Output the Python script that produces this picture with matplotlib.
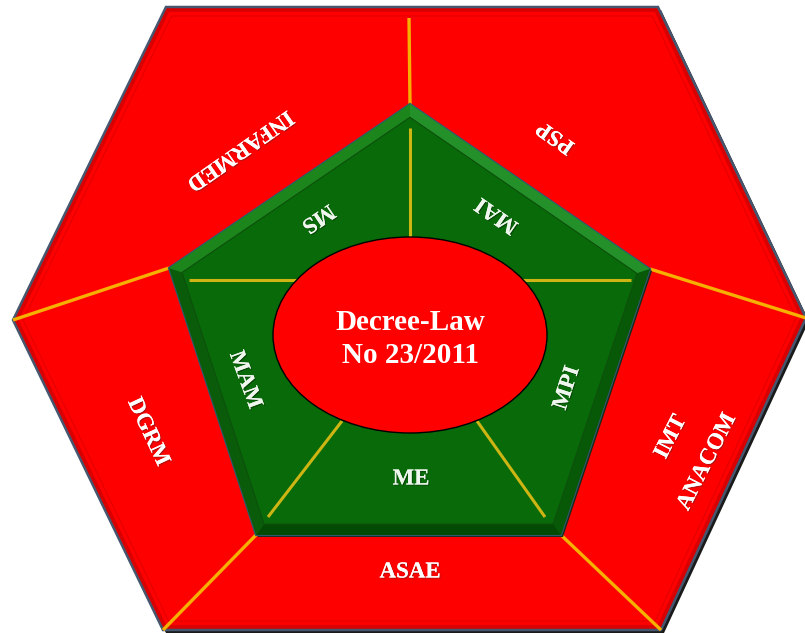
import numpy as np
import matplotlib
matplotlib.use("Agg")
import matplotlib.pyplot as plt
from matplotlib.patches import Polygon, Ellipse
import matplotlib.patheffects as pe

# ---- content ----
center_label = "Decree-Law\nNo 23/2011"
outer_labels = ["INFARMED", "PSP", "IMT", "ANACOM", "ASAE", "DGRM"]
inner_labels = ["MS", "MAI", "MPI", "ME", "MAM"]

# ---- geometry (pixel coordinates, y downward) ----
hexagon = np.array([(166, 7), (658, 7), (806, 318), (661, 630), (163, 630), (13, 320)], float)
pentagon = np.array([(410, 104), (650, 269), (561, 535), (256, 535), (169, 268)], float)
ell_c, ell_w, ell_h = (410, 335), 274, 196

outer_pos = [(240, 150, -145), (556, 137, 145), (671, 437, 63), (707, 462, 63),
             (410, 572, 0), (148, 432, -65)]
inner_pos = [(318, 218, -146), (497, 215, 145), (567, 388, 72), (411, 479, 0), (245, 380, -70)]

outer_div = [((410, 104), (409, 18)), ((169, 268), (13, 320)), ((650, 269), (806, 318)),
             ((256, 535), (163, 630)), ((561, 535), (661, 630))]
inner_div = [((410, 128), (410, 240)), ((189, 280), (300, 280)), ((520, 280), (631, 280)),
             ((268, 517), (342, 421)), ((545, 517), (477, 421))]


def inset(verts, d):
    c = verts.mean(axis=0)
    n = len(verts)
    lines = []
    for i in range(n):
        p, q = verts[i], verts[(i + 1) % n]
        t = q - p
        nrm = np.array([-t[1], t[0]]) / np.hypot(*t)
        if np.dot(c - p, nrm) < 0:
            nrm = -nrm
        lines.append((p + d * nrm, t))
    out = []
    for i in range(n):
        p1, t1 = lines[i - 1]
        p2, t2 = lines[i]
        A = np.array([t1, -t2]).T
        s = np.linalg.solve(A, p2 - p1)
        out.append(p1 + s[0] * t1)
    return np.array(out)


fig = plt.figure(figsize=(8.05, 6.33), dpi=100)
ax = fig.add_axes([0, 0, 1, 1])
ax.set_xlim(0, 805)
ax.set_ylim(633, 0)
ax.axis("off")

# hexagon shadow
ax.add_patch(Polygon(hexagon + np.array([3, 3]), closed=True, fc="#1a1a1a", ec="none", zorder=1))
# hexagon body
ax.add_patch(Polygon(hexagon, closed=True, fc="#d80000", ec="#45566e", lw=1.8, zorder=2))
hex_in = inset(hexagon, 5)
ax.add_patch(Polygon(hex_in, closed=True, fc="#ff0000", ec="none", zorder=3))
hex_in2 = inset(hexagon, 9)
ax.add_patch(Polygon(hex_in2, closed=True, fc="none", ec="#e00000", lw=0.7, zorder=3))

# outer dividers
for a, b in outer_div:
    ax.plot([a[0], b[0]], [a[1], b[1]], color="#f5b000", lw=2.4, zorder=4, solid_capstyle="butt")

# pentagon
ax.add_patch(Polygon(pentagon + np.array([2, 2]), closed=True, fc="#1a2a1a", ec="none", zorder=5))
ax.add_patch(Polygon(pentagon, closed=True, fc="#0a6a0a", ec="#2f5a6e", lw=1.6, zorder=6))
p_in = inset(pentagon, 11)
shades = ["#23902a", "#075807", "#044a04", "#0a5c0a", "#1c861c"]
n = len(pentagon)
for i in range(n):
    quad = np.array([pentagon[i], pentagon[(i + 1) % n], p_in[(i + 1) % n], p_in[i]])
    ax.add_patch(Polygon(quad, closed=True, fc=shades[i], ec="none", zorder=7))
ax.add_patch(Polygon(p_in, closed=True, fc="#086a08", ec="#0d500d", lw=0.8, zorder=8))

# inner dividers
for a, b in inner_div:
    ax.plot([a[0], b[0]], [a[1], b[1]], color="#cdb514", lw=2.2, zorder=9, solid_capstyle="butt")

# central ellipse
ax.add_patch(Ellipse(ell_c, ell_w, ell_h, fc="#ff0000", ec="black", lw=1.0, zorder=10))

font = dict(family="Liberation Serif", weight="bold", color="white", ha="center", va="center")
shadow = [pe.withSimplePatchShadow(offset=(0.8, -0.8), shadow_rgbFace="#7a2020", alpha=0.6), pe.Normal()]

ax.text(ell_c[0], ell_c[1] + 4, center_label, fontsize=21, linespacing=1.3, zorder=11, **font)

for lab, (x, y, r) in zip(outer_labels, outer_pos):
    t = ax.text(x, y, lab, fontsize=16.5, rotation=r, rotation_mode="anchor", zorder=11, **font)
    t.set_path_effects(shadow)

shadow_g = [pe.withSimplePatchShadow(offset=(0.8, -0.8), shadow_rgbFace="#0a300a", alpha=0.6), pe.Normal()]
for lab, (x, y, r) in zip(inner_labels, inner_pos):
    t = ax.text(x, y, lab, fontsize=16.5, rotation=r, rotation_mode="anchor", zorder=11,
                **{**font, "color": "#eef6ee"})
    t.set_path_effects(shadow_g)

fig.savefig("out.png", dpi=100)
